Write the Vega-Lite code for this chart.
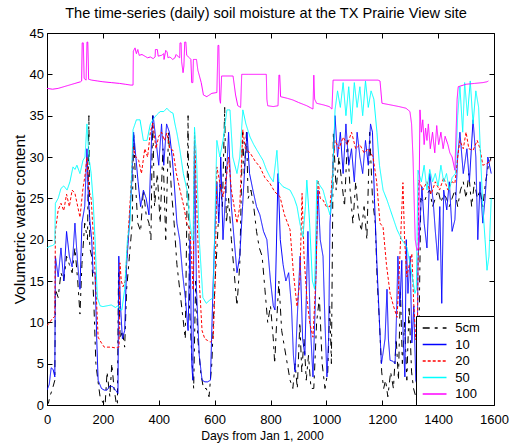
{
"$schema": "https://vega.github.io/schema/vega-lite/v6.json",
"width": 447,
"height": 372,
"autosize": {"type": "none"},
"padding": {"left": 47, "top": 33, "right": 16, "bottom": 42},
"background": "white",
"title": {"text": "The time-series (daily) soil moisture at the TX Prairie View site", "font": "Liberation Sans", "fontSize": 14.6, "fontWeight": "normal", "color": "black", "anchor": "middle", "offset": 6, "dx": -4.5},
"data": {"values": [
{"s":"5cm","d":0,"v":0.5},{"s":"5cm","d":5,"v":0.2},{"s":"5cm","d":10,"v":1},{"s":"5cm","d":20,"v":2},{"s":"5cm","d":28,"v":3},{"s":"5cm","d":30,"v":14},{"s":"5cm","d":40,"v":13},{"s":"5cm","d":50,"v":16},{"s":"5cm","d":60,"v":15},{"s":"5cm","d":70,"v":18},{"s":"5cm","d":80,"v":17},{"s":"5cm","d":90,"v":16},{"s":"5cm","d":100,"v":19},{"s":"5cm","d":110,"v":15},{"s":"5cm","d":118,"v":11},{"s":"5cm","d":125,"v":17},{"s":"5cm","d":135,"v":22},{"s":"5cm","d":145,"v":20},{"s":"5cm","d":150,"v":35},{"s":"5cm","d":153,"v":19},{"s":"5cm","d":160,"v":18},{"s":"5cm","d":168,"v":12},{"s":"5cm","d":175,"v":5},{"s":"5cm","d":182,"v":3},{"s":"5cm","d":190,"v":1},{"s":"5cm","d":200,"v":0.3},{"s":"5cm","d":208,"v":0},{"s":"5cm","d":215,"v":4},{"s":"5cm","d":225,"v":1},{"s":"5cm","d":232,"v":5},{"s":"5cm","d":240,"v":2},{"s":"5cm","d":248,"v":0.2},{"s":"5cm","d":252,"v":0},{"s":"5cm","d":256,"v":16},{"s":"5cm","d":262,"v":8},{"s":"5cm","d":270,"v":9},{"s":"5cm","d":278,"v":7},{"s":"5cm","d":285,"v":14},{"s":"5cm","d":295,"v":18},{"s":"5cm","d":305,"v":22},{"s":"5cm","d":310,"v":33},{"s":"5cm","d":318,"v":26},{"s":"5cm","d":325,"v":22},{"s":"5cm","d":335,"v":21},{"s":"5cm","d":345,"v":26},{"s":"5cm","d":355,"v":23},{"s":"5cm","d":365,"v":22},{"s":"5cm","d":372,"v":20},{"s":"5cm","d":378,"v":35},{"s":"5cm","d":385,"v":24},{"s":"5cm","d":395,"v":28},{"s":"5cm","d":405,"v":22},{"s":"5cm","d":415,"v":31},{"s":"5cm","d":425,"v":20},{"s":"5cm","d":435,"v":33},{"s":"5cm","d":445,"v":26},{"s":"5cm","d":455,"v":22},{"s":"5cm","d":465,"v":17},{"s":"5cm","d":475,"v":14},{"s":"5cm","d":485,"v":11},{"s":"5cm","d":495,"v":8},{"s":"5cm","d":505,"v":35},{"s":"5cm","d":510,"v":12},{"s":"5cm","d":518,"v":6},{"s":"5cm","d":525,"v":2},{"s":"5cm","d":532,"v":15},{"s":"5cm","d":540,"v":8},{"s":"5cm","d":550,"v":4},{"s":"5cm","d":560,"v":2},{"s":"5cm","d":570,"v":2},{"s":"5cm","d":580,"v":1},{"s":"5cm","d":590,"v":5},{"s":"5cm","d":600,"v":14},{"s":"5cm","d":610,"v":20},{"s":"5cm","d":620,"v":27},{"s":"5cm","d":628,"v":24},{"s":"5cm","d":636,"v":36},{"s":"5cm","d":642,"v":22},{"s":"5cm","d":650,"v":25},{"s":"5cm","d":660,"v":20},{"s":"5cm","d":670,"v":16},{"s":"5cm","d":680,"v":12},{"s":"5cm","d":690,"v":17},{"s":"5cm","d":700,"v":33},{"s":"5cm","d":706,"v":28},{"s":"5cm","d":714,"v":33},{"s":"5cm","d":720,"v":25},{"s":"5cm","d":730,"v":26},{"s":"5cm","d":740,"v":24},{"s":"5cm","d":750,"v":21},{"s":"5cm","d":760,"v":19},{"s":"5cm","d":770,"v":18},{"s":"5cm","d":780,"v":14},{"s":"5cm","d":790,"v":10},{"s":"5cm","d":800,"v":12},{"s":"5cm","d":810,"v":8},{"s":"5cm","d":815,"v":5},{"s":"5cm","d":822,"v":10},{"s":"5cm","d":830,"v":15},{"s":"5cm","d":840,"v":9},{"s":"5cm","d":850,"v":7},{"s":"5cm","d":860,"v":5},{"s":"5cm","d":870,"v":3},{"s":"5cm","d":880,"v":2},{"s":"5cm","d":888,"v":5},{"s":"5cm","d":896,"v":2},{"s":"5cm","d":905,"v":10},{"s":"5cm","d":912,"v":4},{"s":"5cm","d":920,"v":8},{"s":"5cm","d":928,"v":3},{"s":"5cm","d":936,"v":6},{"s":"5cm","d":945,"v":2},{"s":"5cm","d":955,"v":2},{"s":"5cm","d":965,"v":10},{"s":"5cm","d":975,"v":13},{"s":"5cm","d":985,"v":5},{"s":"5cm","d":995,"v":2},{"s":"5cm","d":1005,"v":4},{"s":"5cm","d":1012,"v":12},{"s":"5cm","d":1018,"v":5},{"s":"5cm","d":1025,"v":33},{"s":"5cm","d":1035,"v":26},{"s":"5cm","d":1045,"v":30},{"s":"5cm","d":1055,"v":27},{"s":"5cm","d":1065,"v":24},{"s":"5cm","d":1075,"v":32},{"s":"5cm","d":1085,"v":26},{"s":"5cm","d":1095,"v":22},{"s":"5cm","d":1105,"v":27},{"s":"5cm","d":1115,"v":23},{"s":"5cm","d":1125,"v":21},{"s":"5cm","d":1135,"v":24},{"s":"5cm","d":1145,"v":20},{"s":"5cm","d":1155,"v":33},{"s":"5cm","d":1165,"v":25},{"s":"5cm","d":1175,"v":22},{"s":"5cm","d":1182,"v":15},{"s":"5cm","d":1190,"v":10},{"s":"5cm","d":1198,"v":4},{"s":"5cm","d":1205,"v":2},{"s":"5cm","d":1212,"v":3},{"s":"5cm","d":1220,"v":1},{"s":"5cm","d":1230,"v":4},{"s":"5cm","d":1240,"v":2},{"s":"5cm","d":1250,"v":8},{"s":"5cm","d":1258,"v":3},{"s":"5cm","d":1265,"v":14},{"s":"5cm","d":1272,"v":5},{"s":"5cm","d":1280,"v":10},{"s":"5cm","d":1288,"v":3},{"s":"5cm","d":1296,"v":12},{"s":"5cm","d":1305,"v":4},{"s":"5cm","d":1312,"v":2},{"s":"5cm","d":1320,"v":1},{"s":"5cm","d":1326,"v":0},{"s":"5cm","d":1332,"v":10},{"s":"5cm","d":1338,"v":25},{"s":"5cm","d":1350,"v":24.5},{"s":"5cm","d":1360,"v":25.5},{"s":"5cm","d":1370,"v":26},{"s":"5cm","d":1380,"v":24},{"s":"5cm","d":1390,"v":25},{"s":"5cm","d":1400,"v":26},{"s":"5cm","d":1410,"v":24.5},{"s":"5cm","d":1420,"v":25.5},{"s":"5cm","d":1430,"v":25},{"s":"5cm","d":1440,"v":24},{"s":"5cm","d":1450,"v":25},{"s":"5cm","d":1460,"v":26},{"s":"5cm","d":1470,"v":24},{"s":"5cm","d":1480,"v":26},{"s":"5cm","d":1490,"v":27},{"s":"5cm","d":1500,"v":25},{"s":"5cm","d":1510,"v":28},{"s":"5cm","d":1520,"v":24},{"s":"5cm","d":1530,"v":27},{"s":"5cm","d":1540,"v":25},{"s":"5cm","d":1550,"v":26},{"s":"5cm","d":1560,"v":24},{"s":"5cm","d":1570,"v":27},{"s":"5cm","d":1580,"v":29},{"s":"5cm","d":1590,"v":30},
{"s":"10","d":0,"v":1.8},{"s":"10","d":8,"v":2.5},{"s":"10","d":15,"v":4.5},{"s":"10","d":22,"v":4.3},{"s":"10","d":28,"v":3.4},{"s":"10","d":30,"v":18},{"s":"10","d":40,"v":15.5},{"s":"10","d":50,"v":19},{"s":"10","d":60,"v":15},{"s":"10","d":70,"v":21},{"s":"10","d":80,"v":18},{"s":"10","d":90,"v":16.7},{"s":"10","d":100,"v":22},{"s":"10","d":110,"v":17},{"s":"10","d":118,"v":14},{"s":"10","d":125,"v":22},{"s":"10","d":135,"v":24},{"s":"10","d":143,"v":31},{"s":"10","d":148,"v":25},{"s":"10","d":154,"v":22},{"s":"10","d":160,"v":20},{"s":"10","d":165,"v":16},{"s":"10","d":172,"v":16},{"s":"10","d":178,"v":8},{"s":"10","d":183,"v":3},{"s":"10","d":195,"v":2},{"s":"10","d":205,"v":1.8},{"s":"10","d":215,"v":1.8},{"s":"10","d":225,"v":2.3},{"s":"10","d":236,"v":2.2},{"s":"10","d":245,"v":1.8},{"s":"10","d":254,"v":1.4},{"s":"10","d":257,"v":18},{"s":"10","d":263,"v":12},{"s":"10","d":270,"v":8},{"s":"10","d":278,"v":9},{"s":"10","d":285,"v":17},{"s":"10","d":295,"v":22},{"s":"10","d":305,"v":28},{"s":"10","d":310,"v":33},{"s":"10","d":318,"v":30},{"s":"10","d":326,"v":27},{"s":"10","d":335,"v":24},{"s":"10","d":345,"v":26},{"s":"10","d":355,"v":25},{"s":"10","d":365,"v":23},{"s":"10","d":375,"v":33},{"s":"10","d":380,"v":35},{"s":"10","d":390,"v":32},{"s":"10","d":400,"v":29},{"s":"10","d":410,"v":34},{"s":"10","d":418,"v":29},{"s":"10","d":428,"v":34},{"s":"10","d":438,"v":33},{"s":"10","d":448,"v":30},{"s":"10","d":455,"v":27},{"s":"10","d":465,"v":22},{"s":"10","d":475,"v":20},{"s":"10","d":485,"v":16},{"s":"10","d":495,"v":13},{"s":"10","d":505,"v":9},{"s":"10","d":512,"v":20},{"s":"10","d":518,"v":5},{"s":"10","d":522,"v":3},{"s":"10","d":528,"v":32},{"s":"10","d":535,"v":14},{"s":"10","d":545,"v":6},{"s":"10","d":555,"v":3},{"s":"10","d":565,"v":2.8},{"s":"10","d":575,"v":2.8},{"s":"10","d":585,"v":3},{"s":"10","d":594,"v":14},{"s":"10","d":600,"v":20},{"s":"10","d":608,"v":27},{"s":"10","d":615,"v":22},{"s":"10","d":622,"v":30},{"s":"10","d":630,"v":20},{"s":"10","d":640,"v":26},{"s":"10","d":650,"v":33},{"s":"10","d":660,"v":24},{"s":"10","d":670,"v":20},{"s":"10","d":680,"v":16},{"s":"10","d":690,"v":18},{"s":"10","d":700,"v":24},{"s":"10","d":710,"v":30},{"s":"10","d":716,"v":33},{"s":"10","d":725,"v":28},{"s":"10","d":737,"v":26},{"s":"10","d":750,"v":24},{"s":"10","d":762,"v":23},{"s":"10","d":775,"v":21},{"s":"10","d":787,"v":20},{"s":"10","d":800,"v":15},{"s":"10","d":810,"v":12},{"s":"10","d":816,"v":11.5},{"s":"10","d":827,"v":28},{"s":"10","d":835,"v":20},{"s":"10","d":845,"v":17},{"s":"10","d":855,"v":15},{"s":"10","d":865,"v":16},{"s":"10","d":875,"v":12},{"s":"10","d":882,"v":6},{"s":"10","d":888,"v":4},{"s":"10","d":895,"v":10},{"s":"10","d":906,"v":18},{"s":"10","d":915,"v":8},{"s":"10","d":923,"v":6},{"s":"10","d":934,"v":21},{"s":"10","d":942,"v":10},{"s":"10","d":952,"v":3.4},{"s":"10","d":960,"v":12},{"s":"10","d":970,"v":26},{"s":"10","d":978,"v":20},{"s":"10","d":988,"v":18},{"s":"10","d":995,"v":10},{"s":"10","d":1002,"v":3.4},{"s":"10","d":1008,"v":8},{"s":"10","d":1013,"v":22},{"s":"10","d":1020,"v":26},{"s":"10","d":1031,"v":35},{"s":"10","d":1040,"v":30},{"s":"10","d":1050,"v":33},{"s":"10","d":1060,"v":28},{"s":"10","d":1070,"v":34},{"s":"10","d":1080,"v":29},{"s":"10","d":1090,"v":31},{"s":"10","d":1100,"v":27},{"s":"10","d":1110,"v":33},{"s":"10","d":1120,"v":30},{"s":"10","d":1130,"v":28},{"s":"10","d":1140,"v":32},{"s":"10","d":1150,"v":29},{"s":"10","d":1158,"v":34},{"s":"10","d":1165,"v":33},{"s":"10","d":1172,"v":25},{"s":"10","d":1181,"v":17},{"s":"10","d":1190,"v":10},{"s":"10","d":1197,"v":5},{"s":"10","d":1203,"v":6.3},{"s":"10","d":1210,"v":8},{"s":"10","d":1217,"v":14},{"s":"10","d":1222,"v":8},{"s":"10","d":1228,"v":5.4},{"s":"10","d":1238,"v":5.3},{"s":"10","d":1246,"v":5},{"s":"10","d":1252,"v":12},{"s":"10","d":1256,"v":18},{"s":"10","d":1263,"v":12},{"s":"10","d":1270,"v":17.5},{"s":"10","d":1275,"v":8},{"s":"10","d":1281,"v":3.4},{"s":"10","d":1286,"v":20},{"s":"10","d":1292,"v":13.5},{"s":"10","d":1300,"v":18},{"s":"10","d":1306,"v":7.5},{"s":"10","d":1313,"v":12},{"s":"10","d":1320,"v":3},{"s":"10","d":1324,"v":2.5},{"s":"10","d":1328,"v":17.5},{"s":"10","d":1335,"v":22},{"s":"10","d":1342,"v":26.4},{"s":"10","d":1350,"v":22},{"s":"10","d":1360,"v":19},{"s":"10","d":1370,"v":28},{"s":"10","d":1382,"v":24.8},{"s":"10","d":1390,"v":21},{"s":"10","d":1399,"v":17.5},{"s":"10","d":1406,"v":24},{"s":"10","d":1413,"v":12.3},{"s":"10","d":1420,"v":26},{"s":"10","d":1431,"v":23.6},{"s":"10","d":1440,"v":27},{"s":"10","d":1450,"v":21},{"s":"10","d":1460,"v":22.4},{"s":"10","d":1470,"v":30},{"s":"10","d":1478,"v":33},{"s":"10","d":1490,"v":28},{"s":"10","d":1503,"v":31},{"s":"10","d":1512,"v":27},{"s":"10","d":1525,"v":34.5},{"s":"10","d":1535,"v":30},{"s":"10","d":1542,"v":20},{"s":"10","d":1550,"v":27},{"s":"10","d":1560,"v":22},{"s":"10","d":1568,"v":25},{"s":"10","d":1578,"v":30},{"s":"10","d":1590,"v":28},
{"s":"20","d":0,"v":9.6},{"s":"20","d":10,"v":10},{"s":"20","d":20,"v":10.5},{"s":"20","d":28,"v":10.7},{"s":"20","d":30,"v":21},{"s":"20","d":40,"v":23.6},{"s":"20","d":50,"v":24.4},{"s":"20","d":60,"v":23.5},{"s":"20","d":70,"v":25.5},{"s":"20","d":80,"v":24},{"s":"20","d":90,"v":26},{"s":"20","d":100,"v":25.6},{"s":"20","d":110,"v":24},{"s":"20","d":118,"v":22.7},{"s":"20","d":128,"v":26},{"s":"20","d":137,"v":28},{"s":"20","d":143,"v":30},{"s":"20","d":150,"v":26},{"s":"20","d":158,"v":25},{"s":"20","d":165,"v":21},{"s":"20","d":172,"v":16},{"s":"20","d":178,"v":12},{"s":"20","d":183,"v":8.2},{"s":"20","d":195,"v":7.5},{"s":"20","d":205,"v":7},{"s":"20","d":215,"v":7},{"s":"20","d":230,"v":7},{"s":"20","d":245,"v":6.9},{"s":"20","d":254,"v":7},{"s":"20","d":258,"v":7},{"s":"20","d":261,"v":17.2},{"s":"20","d":266,"v":15},{"s":"20","d":272,"v":14.3},{"s":"20","d":280,"v":15},{"s":"20","d":290,"v":20.3},{"s":"20","d":300,"v":26},{"s":"20","d":308,"v":31.2},{"s":"20","d":318,"v":30},{"s":"20","d":328,"v":29.6},{"s":"20","d":338,"v":28},{"s":"20","d":350,"v":31},{"s":"20","d":360,"v":30},{"s":"20","d":370,"v":33},{"s":"20","d":379,"v":34.1},{"s":"20","d":390,"v":31},{"s":"20","d":400,"v":32.5},{"s":"20","d":410,"v":33},{"s":"20","d":420,"v":32},{"s":"20","d":429,"v":32.9},{"s":"20","d":440,"v":31},{"s":"20","d":451,"v":30.8},{"s":"20","d":463,"v":28},{"s":"20","d":476,"v":26},{"s":"20","d":490,"v":24},{"s":"20","d":500,"v":22},{"s":"20","d":512,"v":21.2},{"s":"20","d":520,"v":16},{"s":"20","d":523,"v":13.9},{"s":"20","d":528,"v":33},{"s":"20","d":535,"v":25},{"s":"20","d":545,"v":15},{"s":"20","d":555,"v":9},{"s":"20","d":565,"v":8},{"s":"20","d":575,"v":7.8},{"s":"20","d":585,"v":7.6},{"s":"20","d":595,"v":8},{"s":"20","d":602,"v":15},{"s":"20","d":608,"v":28.8},{"s":"20","d":618,"v":27},{"s":"20","d":630,"v":25.2},{"s":"20","d":640,"v":27},{"s":"20","d":650,"v":30},{"s":"20","d":660,"v":26},{"s":"20","d":670,"v":24},{"s":"20","d":680,"v":22},{"s":"20","d":690,"v":24},{"s":"20","d":701,"v":33.3},{"s":"20","d":710,"v":31},{"s":"20","d":727,"v":30.5},{"s":"20","d":745,"v":29.5},{"s":"20","d":762,"v":28.8},{"s":"20","d":780,"v":27.5},{"s":"20","d":798,"v":26.8},{"s":"20","d":815,"v":25.8},{"s":"20","d":834,"v":25.2},{"s":"20","d":850,"v":23},{"s":"20","d":870,"v":21.2},{"s":"20","d":882,"v":16},{"s":"20","d":895,"v":11.9},{"s":"20","d":905,"v":15},{"s":"20","d":913,"v":25.6},{"s":"20","d":920,"v":18},{"s":"20","d":930,"v":13},{"s":"20","d":940,"v":10},{"s":"20","d":952,"v":8.2},{"s":"20","d":962,"v":15},{"s":"20","d":970,"v":27.2},{"s":"20","d":978,"v":25},{"s":"20","d":988,"v":24.8},{"s":"20","d":1000,"v":24},{"s":"20","d":1013,"v":24},{"s":"20","d":1022,"v":28},{"s":"20","d":1031,"v":32},{"s":"20","d":1045,"v":31},{"s":"20","d":1060,"v":32.4},{"s":"20","d":1075,"v":31.5},{"s":"20","d":1090,"v":33},{"s":"20","d":1105,"v":31},{"s":"20","d":1120,"v":31.5},{"s":"20","d":1135,"v":30.5},{"s":"20","d":1150,"v":31},{"s":"20","d":1167,"v":30},{"s":"20","d":1180,"v":27},{"s":"20","d":1192,"v":22},{"s":"20","d":1203,"v":21.5},{"s":"20","d":1215,"v":17},{"s":"20","d":1228,"v":13.5},{"s":"20","d":1240,"v":12},{"s":"20","d":1253,"v":10.6},{"s":"20","d":1258,"v":14},{"s":"20","d":1263,"v":17.9},{"s":"20","d":1268,"v":22},{"s":"20","d":1274,"v":26.9},{"s":"20","d":1280,"v":20},{"s":"20","d":1288,"v":15.5},{"s":"20","d":1297,"v":17},{"s":"20","d":1306,"v":18.3},{"s":"20","d":1313,"v":12},{"s":"20","d":1320,"v":7.9},{"s":"20","d":1326,"v":9},{"s":"20","d":1331,"v":27.2},{"s":"20","d":1345,"v":26},{"s":"20","d":1360,"v":27},{"s":"20","d":1375,"v":25.5},{"s":"20","d":1390,"v":27},{"s":"20","d":1405,"v":26},{"s":"20","d":1420,"v":27.5},{"s":"20","d":1435,"v":26},{"s":"20","d":1450,"v":27},{"s":"20","d":1460,"v":26.8},{"s":"20","d":1470,"v":30},{"s":"20","d":1478,"v":32},{"s":"20","d":1490,"v":31},{"s":"20","d":1500,"v":33},{"s":"20","d":1510,"v":31},{"s":"20","d":1525,"v":30.8},{"s":"20","d":1540,"v":32},{"s":"20","d":1550,"v":31},{"s":"20","d":1560,"v":29},{"s":"20","d":1575,"v":29.2},{"s":"20","d":1590,"v":29.6},
{"s":"50","d":0,"v":19},{"s":"50","d":10,"v":19.2},{"s":"50","d":20,"v":19.3},{"s":"50","d":28,"v":19.5},{"s":"50","d":30,"v":24.4},{"s":"50","d":40,"v":25},{"s":"50","d":50,"v":26.2},{"s":"50","d":60,"v":26.5},{"s":"50","d":72,"v":26},{"s":"50","d":82,"v":27},{"s":"50","d":93,"v":28.8},{"s":"50","d":100,"v":28.5},{"s":"50","d":107,"v":29},{"s":"50","d":118,"v":28},{"s":"50","d":129,"v":29.6},{"s":"50","d":136,"v":30},{"s":"50","d":143,"v":34},{"s":"50","d":150,"v":30},{"s":"50","d":158,"v":28},{"s":"50","d":165,"v":24.8},{"s":"50","d":172,"v":20},{"s":"50","d":180,"v":13},{"s":"50","d":190,"v":12},{"s":"50","d":200,"v":11.9},{"s":"50","d":215,"v":12},{"s":"50","d":230,"v":12.1},{"s":"50","d":245,"v":11.8},{"s":"50","d":254,"v":12},{"s":"50","d":262,"v":11.5},{"s":"50","d":268,"v":11.5},{"s":"50","d":278,"v":14},{"s":"50","d":288,"v":20},{"s":"50","d":297,"v":22},{"s":"50","d":303,"v":28},{"s":"50","d":308,"v":33.3},{"s":"50","d":320,"v":34.5},{"s":"50","d":333,"v":34.5},{"s":"50","d":345,"v":32},{"s":"50","d":358,"v":32},{"s":"50","d":370,"v":34},{"s":"50","d":379,"v":34.5},{"s":"50","d":390,"v":35},{"s":"50","d":405,"v":35.5},{"s":"50","d":418,"v":35.5},{"s":"50","d":429,"v":35.9},{"s":"50","d":440,"v":35.5},{"s":"50","d":451,"v":35.3},{"s":"50","d":458,"v":34},{"s":"50","d":465,"v":32.9},{"s":"50","d":475,"v":31},{"s":"50","d":488,"v":28},{"s":"50","d":501,"v":26},{"s":"50","d":512,"v":22},{"s":"50","d":520,"v":20},{"s":"50","d":523,"v":20},{"s":"50","d":528,"v":33.6},{"s":"50","d":535,"v":30},{"s":"50","d":545,"v":20},{"s":"50","d":558,"v":13},{"s":"50","d":570,"v":12.3},{"s":"50","d":583,"v":12.7},{"s":"50","d":595,"v":13},{"s":"50","d":603,"v":25},{"s":"50","d":608,"v":32},{"s":"50","d":619,"v":30},{"s":"50","d":630,"v":32},{"s":"50","d":644,"v":35.7},{"s":"50","d":655,"v":35.7},{"s":"50","d":665,"v":30},{"s":"50","d":680,"v":28},{"s":"50","d":690,"v":30},{"s":"50","d":701,"v":35.7},{"s":"50","d":712,"v":34},{"s":"50","d":727,"v":32.4},{"s":"50","d":740,"v":31.5},{"s":"50","d":752,"v":30.8},{"s":"50","d":773,"v":29.6},{"s":"50","d":785,"v":28.5},{"s":"50","d":798,"v":27.6},{"s":"50","d":810,"v":27},{"s":"50","d":823,"v":30.8},{"s":"50","d":830,"v":27},{"s":"50","d":845,"v":26.4},{"s":"50","d":870,"v":26},{"s":"50","d":885,"v":25},{"s":"50","d":895,"v":24},{"s":"50","d":905,"v":22},{"s":"50","d":916,"v":20.3},{"s":"50","d":925,"v":24},{"s":"50","d":930,"v":27.2},{"s":"50","d":940,"v":22},{"s":"50","d":950,"v":15},{"s":"50","d":958,"v":14},{"s":"50","d":966,"v":27.2},{"s":"50","d":978,"v":26.5},{"s":"50","d":988,"v":26},{"s":"50","d":1000,"v":24.5},{"s":"50","d":1013,"v":23},{"s":"50","d":1020,"v":25},{"s":"50","d":1031,"v":35.7},{"s":"50","d":1040,"v":38},{"s":"50","d":1050,"v":36},{"s":"50","d":1060,"v":39},{"s":"50","d":1070,"v":35},{"s":"50","d":1080,"v":38.5},{"s":"50","d":1090,"v":34},{"s":"50","d":1100,"v":39},{"s":"50","d":1110,"v":36},{"s":"50","d":1120,"v":38.5},{"s":"50","d":1130,"v":35},{"s":"50","d":1140,"v":39.2},{"s":"50","d":1150,"v":36},{"s":"50","d":1160,"v":38},{"s":"50","d":1170,"v":37},{"s":"50","d":1181,"v":33},{"s":"50","d":1190,"v":29},{"s":"50","d":1203,"v":26},{"s":"50","d":1217,"v":24.8},{"s":"50","d":1235,"v":23},{"s":"50","d":1253,"v":21.2},{"s":"50","d":1270,"v":20},{"s":"50","d":1288,"v":19.1},{"s":"50","d":1300,"v":17},{"s":"50","d":1310,"v":15},{"s":"50","d":1317,"v":13.5},{"s":"50","d":1322,"v":14},{"s":"50","d":1328,"v":28.4},{"s":"50","d":1340,"v":27},{"s":"50","d":1350,"v":29},{"s":"50","d":1360,"v":26},{"s":"50","d":1370,"v":28.5},{"s":"50","d":1380,"v":27},{"s":"50","d":1390,"v":28},{"s":"50","d":1400,"v":26.5},{"s":"50","d":1410,"v":29},{"s":"50","d":1420,"v":27},{"s":"50","d":1430,"v":28},{"s":"50","d":1440,"v":26},{"s":"50","d":1450,"v":27.5},{"s":"50","d":1462,"v":28},{"s":"50","d":1470,"v":35},{"s":"50","d":1478,"v":38.5},{"s":"50","d":1488,"v":33},{"s":"50","d":1495,"v":39},{"s":"50","d":1505,"v":35},{"s":"50","d":1515,"v":39.2},{"s":"50","d":1525,"v":34},{"s":"50","d":1535,"v":38},{"s":"50","d":1545,"v":36},{"s":"50","d":1552,"v":30},{"s":"50","d":1560,"v":24},{"s":"50","d":1568,"v":20},{"s":"50","d":1575,"v":16.3},{"s":"50","d":1582,"v":18},{"s":"50","d":1590,"v":25},
{"s":"100","d":0,"v":38.3},{"s":"100","d":20,"v":38.2},{"s":"100","d":40,"v":38.3},{"s":"100","d":60,"v":38.5},{"s":"100","d":80,"v":38.7},{"s":"100","d":100,"v":38.9},{"s":"100","d":120,"v":39.1},{"s":"100","d":124,"v":39.2},{"s":"100","d":126,"v":43.8},{"s":"100","d":130,"v":43.8},{"s":"100","d":133,"v":39.5},{"s":"100","d":140,"v":39.3},{"s":"100","d":143,"v":43.9},{"s":"100","d":146,"v":43.9},{"s":"100","d":149,"v":39.4},{"s":"100","d":160,"v":39.3},{"s":"100","d":180,"v":39.2},{"s":"100","d":200,"v":39.1},{"s":"100","d":230,"v":39},{"s":"100","d":260,"v":38.9},{"s":"100","d":280,"v":38.8},{"s":"100","d":300,"v":38.7},{"s":"100","d":308,"v":38.7},{"s":"100","d":309,"v":42.8},{"s":"100","d":315,"v":43.2},{"s":"100","d":320,"v":42.5},{"s":"100","d":325,"v":43},{"s":"100","d":330,"v":42.3},{"s":"100","d":340,"v":42.4},{"s":"100","d":350,"v":42.2},{"s":"100","d":360,"v":42},{"s":"100","d":370,"v":42.1},{"s":"100","d":380,"v":41.9},{"s":"100","d":387,"v":42.1},{"s":"100","d":388,"v":43},{"s":"100","d":395,"v":43},{"s":"100","d":398,"v":42.2},{"s":"100","d":410,"v":42.3},{"s":"100","d":418,"v":42.5},{"s":"100","d":419,"v":41.8},{"s":"100","d":425,"v":42.9},{"s":"100","d":430,"v":42.7},{"s":"100","d":433,"v":42},{"s":"100","d":440,"v":42.1},{"s":"100","d":450,"v":41.8},{"s":"100","d":458,"v":42},{"s":"100","d":462,"v":42.4},{"s":"100","d":468,"v":42.2},{"s":"100","d":475,"v":42},{"s":"100","d":476,"v":43.8},{"s":"100","d":480,"v":43.8},{"s":"100","d":482,"v":41.5},{"s":"100","d":487,"v":40.2},{"s":"100","d":490,"v":41},{"s":"100","d":493,"v":43.9},{"s":"100","d":497,"v":43.9},{"s":"100","d":500,"v":42.3},{"s":"100","d":510,"v":42},{"s":"100","d":515,"v":41.8},{"s":"100","d":518,"v":39},{"s":"100","d":522,"v":39},{"s":"100","d":524,"v":41.8},{"s":"100","d":535,"v":41.8},{"s":"100","d":540,"v":40.5},{"s":"100","d":552,"v":39},{"s":"100","d":560,"v":37.5},{"s":"100","d":572,"v":37.3},{"s":"100","d":590,"v":37.7},{"s":"100","d":608,"v":37.8},{"s":"100","d":612,"v":43.5},{"s":"100","d":615,"v":43.5},{"s":"100","d":618,"v":37},{"s":"100","d":621,"v":36.5},{"s":"100","d":625,"v":39.8},{"s":"100","d":645,"v":39.8},{"s":"100","d":666,"v":39.8},{"s":"100","d":675,"v":37.5},{"s":"100","d":683,"v":36.2},{"s":"100","d":693,"v":36},{"s":"100","d":697,"v":40},{"s":"100","d":720,"v":40},{"s":"100","d":750,"v":40},{"s":"100","d":785,"v":40},{"s":"100","d":787,"v":37},{"s":"100","d":790,"v":36.2},{"s":"100","d":810,"v":36.1},{"s":"100","d":827,"v":36.2},{"s":"100","d":830,"v":39.9},{"s":"100","d":833,"v":39.9},{"s":"100","d":836,"v":37.3},{"s":"100","d":860,"v":37.1},{"s":"100","d":880,"v":36.9},{"s":"100","d":900,"v":36.6},{"s":"100","d":930,"v":36.2},{"s":"100","d":952,"v":35.8},{"s":"100","d":955,"v":39.9},{"s":"100","d":958,"v":37},{"s":"100","d":965,"v":36.5},{"s":"100","d":990,"v":36.3},{"s":"100","d":1010,"v":36.1},{"s":"100","d":1020,"v":35.8},{"s":"100","d":1024,"v":39.3},{"s":"100","d":1050,"v":39.3},{"s":"100","d":1100,"v":39.3},{"s":"100","d":1150,"v":39.3},{"s":"100","d":1185,"v":39.3},{"s":"100","d":1192,"v":39.2},{"s":"100","d":1199,"v":36.5},{"s":"100","d":1230,"v":36.3},{"s":"100","d":1260,"v":36.1},{"s":"100","d":1285,"v":35.9},{"s":"100","d":1299,"v":35.5},{"s":"100","d":1305,"v":34},{"s":"100","d":1310,"v":30},{"s":"100","d":1318,"v":20},{"s":"100","d":1324,"v":18.7},{"s":"100","d":1330,"v":19},{"s":"100","d":1335,"v":35.7},{"s":"100","d":1340,"v":33},{"s":"100","d":1345,"v":34.5},{"s":"100","d":1350,"v":31.5},{"s":"100","d":1355,"v":33.5},{"s":"100","d":1360,"v":32},{"s":"100","d":1365,"v":34},{"s":"100","d":1372,"v":31},{"s":"100","d":1380,"v":33},{"s":"100","d":1388,"v":30.5},{"s":"100","d":1395,"v":33.8},{"s":"100","d":1402,"v":31.5},{"s":"100","d":1410,"v":33},{"s":"100","d":1418,"v":31},{"s":"100","d":1425,"v":32.5},{"s":"100","d":1435,"v":31.5},{"s":"100","d":1442,"v":30.5},{"s":"100","d":1450,"v":30},{"s":"100","d":1460,"v":28.4},{"s":"100","d":1468,"v":37},{"s":"100","d":1472,"v":38.5},{"s":"100","d":1500,"v":38.8},{"s":"100","d":1530,"v":38.9},{"s":"100","d":1560,"v":39},{"s":"100","d":1575,"v":39.1},{"s":"100","d":1580,"v":39.2}
]},
"layer": [
{
"mark": {"type": "line", "strokeWidth": 1, "clip": true},
"encoding": {
"x": {"field": "d", "type": "quantitative", "scale": {"domain": [0, 1600], "nice": false, "zero": false},
  "axis": {"orient": "bottom", "title": "Days from Jan 1, 2000", "titleFontSize": 12.2, "titleX": 215, "titleAnchor": "start", "titleAlign": "center", "format": "d", "values": [0,200,400,600,800,1000,1200,1400,1600], "tickSize": -5, "labelPadding": 13, "titlePadding": 3, "labelFlush": false, "labelOverlap": false}},
"y": {"field": "v", "type": "quantitative", "scale": {"domain": [0, 45], "nice": false, "zero": false},
  "axis": {"orient": "left", "title": "Volumetric water content", "titleFontSize": 15.5, "values": [0,5,10,15,20,25,30,35,40,45], "tickSize": -5, "labelPadding": 8.5, "titlePadding": 2, "labelFlush": false, "labelOverlap": false}},
"color": {"field": "s", "type": "nominal",
  "scale": {"domain": ["5cm","10","20","50","100"], "range": ["#000000","#0000ff","#ff0000","#00ffff","#ff00ff"]},
  "legend": {"title": null, "orient": "bottom-right", "offset": 0, "padding": 4, "strokeColor": "black", "fillColor": "white", "symbolType": "M-1.7,0L1.7,0", "symbolSize": 196, "symbolStrokeWidth": 1.5, "symbolOffset": 6.6, "labelFont": "Liberation Sans", "labelFontSize": 13, "labelColor": "black", "labelOffset": 12.6, "rowPadding": 1.5, "labelExpr": "datum.label + '\u2800'"}},
"strokeDash": {"field": "s", "type": "nominal",
  "scale": {"domain": ["5cm","10","20","50","100"], "range": [[7,5,3,5],[1,0],[3,2],[1,0],[1,0]]},
  "legend": {"title": null, "orient": "bottom-right", "offset": 0, "padding": 4, "strokeColor": "black", "fillColor": "white", "symbolType": "M-1.7,0L1.7,0", "symbolSize": 196, "symbolStrokeWidth": 1.5, "symbolOffset": 6.6, "labelFont": "Liberation Sans", "labelFontSize": 13, "labelColor": "black", "labelOffset": 12.6, "rowPadding": 1.5, "labelExpr": "datum.label + '\u2800'"}}
}
},
{
"mark": {"type": "line", "strokeOpacity": 0},
"encoding": {
"x": {"field": "d", "type": "quantitative", "scale": {"domain": [0, 1600], "nice": false, "zero": false},
  "axis": {"orient": "top", "title": null, "labels": false, "values": [0,200,400,600,800,1000,1200,1400,1600], "tickSize": -5, "domain": false}},
"y": {"field": "v", "type": "quantitative", "scale": {"domain": [0, 45], "nice": false, "zero": false},
  "axis": {"orient": "right", "title": null, "labels": false, "values": [0,5,10,15,20,25,30,35,40,45], "tickSize": -5, "domain": false}},
"detail": {"field": "s", "type": "nominal"}
}
}
],
"resolve": {"axis": {"x": "independent", "y": "independent"}},
"config": {
"view": {"stroke": "black", "strokeWidth": 1},
"axis": {"grid": false, "domainColor": "black", "tickColor": "black", "labelColor": "black", "titleColor": "black", "labelFont": "Liberation Sans", "titleFont": "Liberation Sans", "labelFontSize": 13, "titleFontWeight": "normal", "domainWidth": 1, "tickWidth": 1}
}
}
